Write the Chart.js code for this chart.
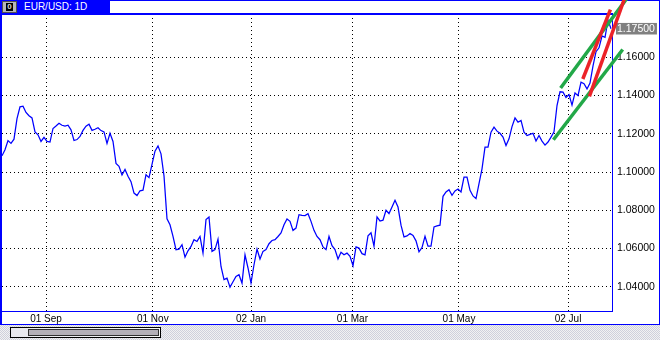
<!DOCTYPE html>
<html>
<head>
<meta charset="utf-8">
<script src="https://cdn.jsdelivr.net/npm/chart.js@4.4.1/dist/chart.umd.min.js"></script>
<style>
  html, body { margin: 0; padding: 0; background: #fff; overflow: hidden; }
  #wrap { position: relative; width: 660px; height: 340px; font-family: "Liberation Sans", Arial, sans-serif; }
  #chart { position: absolute; left: 0; top: 0; }
  #title { position: absolute; left: 0; top: 0; width: 110px; height: 13px; background: #0000ff; }
  #icon { position: absolute; left: 2px; top: 1px; width: 13px; height: 10px; background: #b8b8b8; border: 1px solid #505050; }
  #icon span { position: absolute; left: 3px; top: 1px; width: 7px; height: 8px; background: #000; color: #ddd; font-size: 8px; line-height: 8px; text-align: center; font-weight: bold; }
  #title .txt { position: absolute; left: 24px; top: 1px; color: #fff; font-size: 10px; line-height: 11px; white-space: nowrap; }
  #scroll { position: absolute; left: 0; top: 325px; width: 660px; height: 15px;
    background: repeating-conic-gradient(#cfd0dc 0 25%, #f2f2f2 0 50%) 0 0 / 2px 2px; }
  #thumb { position: absolute; left: 10px; top: 2px; width: 149px; height: 9px; border: 1px solid #000;
    background: linear-gradient(to right, #e8e8ee, #f6f6f6); }
  #thumbBar { position: absolute; left: 17px; top: 1px; width: 129px; height: 5px; border: 1px solid #303030; background: #b4b0b8; }
</style>
</head>
<body>
<div id="wrap">
  <canvas id="chart" width="660" height="325"></canvas>
  <div id="title"><div id="icon"><span>0</span></div><div class="txt">EUR/USD: 1D</div></div>
  <div id="scroll"><div id="thumb"><div id="thumbBar"></div></div></div>
</div>
<script>
// daily closes, one sample every ~3px of the original chart
const closes = [
  1.1085, 1.1117, 1.1165, 1.1150, 1.1172, 1.1280, 1.1341, 1.1345, 1.1312, 1.1295,
  1.1283, 1.1210, 1.1195, 1.1160, 1.1182, 1.1160, 1.1157, 1.1228, 1.1241, 1.1255,
  1.1245, 1.1241, 1.1245, 1.1221, 1.1165, 1.1170, 1.1186, 1.1218, 1.1240, 1.1250,
  1.1218, 1.1224, 1.1232, 1.1217, 1.1210, 1.1150, 1.1203, 1.1160, 1.1045, 1.1030,
  1.0985, 1.1014, 1.0978, 1.0950, 1.0890, 1.0877, 1.0902, 1.0905, 1.0986, 1.0971,
  1.1040, 1.1109, 1.1137, 1.1095, 1.0980, 1.0755, 1.0724, 1.0663, 1.0594, 1.0597,
  1.0620, 1.0555, 1.0588, 1.0611, 1.0646, 1.0637, 1.0663, 1.0576, 1.0751, 1.0765,
  1.0585, 1.0594, 1.0649, 1.0506, 1.0437, 1.0445, 1.0398, 1.0426, 1.0454, 1.0463,
  1.0419, 1.0567, 1.0498, 1.0419, 1.0515, 1.0597, 1.0545, 1.0585, 1.0594, 1.0625,
  1.0642, 1.0646, 1.0663, 1.0681, 1.0724, 1.0754, 1.0742, 1.0695, 1.0707, 1.0777,
  1.0773, 1.0772, 1.0782, 1.0742, 1.0695, 1.0663, 1.0646, 1.0608, 1.0594, 1.0663,
  1.0615, 1.0594, 1.0545, 1.0580, 1.0567, 1.0576, 1.0559, 1.0510, 1.0608, 1.0602,
  1.0573, 1.0567, 1.0667, 1.0682, 1.0612, 1.0765, 1.0744, 1.0748, 1.0800, 1.0783,
  1.0817, 1.0852, 1.0817, 1.0722, 1.0661, 1.0666, 1.0678, 1.0668, 1.0640, 1.0583,
  1.0605, 1.0664, 1.0612, 1.0612, 1.0713, 1.0718, 1.0722, 1.0873, 1.0896, 1.0908,
  1.0878, 1.0901, 1.0911, 1.0896, 1.0974, 1.0974, 1.0904, 1.0875, 1.0861, 1.0939,
  1.1017, 1.1130, 1.1130, 1.1209, 1.1235, 1.1214, 1.1203, 1.1183, 1.1139, 1.1174,
  1.1238, 1.1283, 1.1261, 1.1270, 1.1209, 1.1191, 1.1197, 1.1203, 1.1162, 1.1191,
  1.1162, 1.1141, 1.1157, 1.1183, 1.1210, 1.1348, 1.1420, 1.1418, 1.1390, 1.1405,
  1.1350, 1.1414, 1.1400, 1.1470, 1.1462, 1.1435, 1.1466, 1.1555, 1.1630, 1.1650,
  1.1712, 1.1705, 1.1795, 1.1750
];

// date ticks, as positions in the closes array
const tickIdx = [14.67, 50.27, 83, 116.8, 152.33, 188.67];
const tickLabels = ["01 Sep", "01 Nov", "02 Jan", "01 Mar", "01 May", "02 Jul"];
const priceTicks = [1.04, 1.06, 1.08, 1.10, 1.12, 1.14, 1.16];
const lastPrice = 1.175;

// hand drawn trend lines: [index, price] end points
const channelUp = [[186.2, 1.1440], [209.3, 1.1930]];
const channelLow = [[183.8, 1.1169], [206.9, 1.1641]];
const fanA = [[193.6, 1.1487], [202.8, 1.1850]];
const fanB = [[195.8, 1.1396], [207.4, 1.1903]];

const BLUE = "#0000ff";
const GREEN = "#22a848";
const RED = "#ec2228";

function toXY(pts) {
  return pts.map(p => ({ x: p[0], y: p[1] }));
}

function trend(pts, color) {
  return {
    data: toXY(pts),
    borderColor: color,
    borderWidth: 3.5,
    pointRadius: 0,
    clip: false,
  };
}

const frame = {
  id: "frame",
  beforeDatasetsDraw(chart) {
    const ctx = chart.ctx;
    const a = chart.chartArea;
    ctx.save();
    ctx.fillStyle = BLUE;
    ctx.fillRect(0, 0, 660, 1);                // window top
    ctx.fillRect(0, 0, 2, 325);                // window left
    ctx.fillRect(659, 0, 1, 325);              // window right
    ctx.fillRect(0, 324, 660, 1);              // above the scroll bar
    ctx.fillRect(0, a.top - 1, a.right + 1, 2);   // plot top
    ctx.fillRect(a.right, a.top, 1, a.bottom - a.top); // plot right
    ctx.fillRect(0, a.bottom, a.right + 1, 1);    // plot bottom
    ctx.restore();
  },
};

const isLast = c => c.tick && Math.abs(c.tick.value - lastPrice) < 1e-9;

new Chart(document.getElementById("chart"), {
  type: "line",
  data: {
    datasets: [
      trend(fanA, RED),
      trend(fanB, RED),
      trend(channelUp, GREEN),
      trend(channelLow, GREEN),
      {
        data: closes.map((v, i) => ({ x: i, y: v })),
        borderColor: BLUE,
        borderWidth: 1.25,
        pointRadius: 0,
        tension: 0,
      },
    ],
  },
  options: {
    responsive: false,
    animation: false,
    layout: { padding: { top: 14, left: 2, right: 0, bottom: 0 } },
    plugins: { legend: { display: false }, tooltip: { enabled: false } },
    scales: {
      x: {
        type: "linear",
        min: 0,
        max: 203.33,
        afterBuildTicks: s => { s.ticks = tickIdx.map(v => ({ value: v })); },
        afterFit: s => { s.height = 14; },
        grid: { color: "#000", lineWidth: 1, drawTicks: false },
        border: { display: false, dash: [1, 3] },
        ticks: {
          padding: 2,
          maxRotation: 0,
          autoSkip: false,
          color: "#000",
          font: { family: "Liberation Sans", size: 10 },
          callback: (v, i) => tickLabels[i],
        },
      },
      y: {
        position: "right",
        min: 1.0273,
        max: 1.1827,
        afterBuildTicks: s => { s.ticks = priceTicks.concat([lastPrice]).map(v => ({ value: v })); },
        afterFit: s => { s.width = 48; },
        grid: {
          color: c => (isLast(c) ? "rgba(0,0,0,0)" : "#000"),
          lineWidth: 1,
          drawTicks: false,
        },
        border: { display: false, dash: [1, 3] },
        ticks: {
          padding: 5,
          autoSkip: false,
          color: c => (isLast(c) ? "#ffffff" : "#000000"),
          showLabelBackdrop: true,
          backdropColor: c => (isLast(c) ? "#808080" : "rgba(0,0,0,0)"),
          backdropPadding: { top: 0, bottom: 0, left: 1, right: 2 },
          font: { family: "Liberation Sans", size: 10.5, lineHeight: 1.1 },
          callback: v => v.toFixed(5),
        },
      },
    },
  },
  plugins: [frame],
});
</script>
</body>
</html>
